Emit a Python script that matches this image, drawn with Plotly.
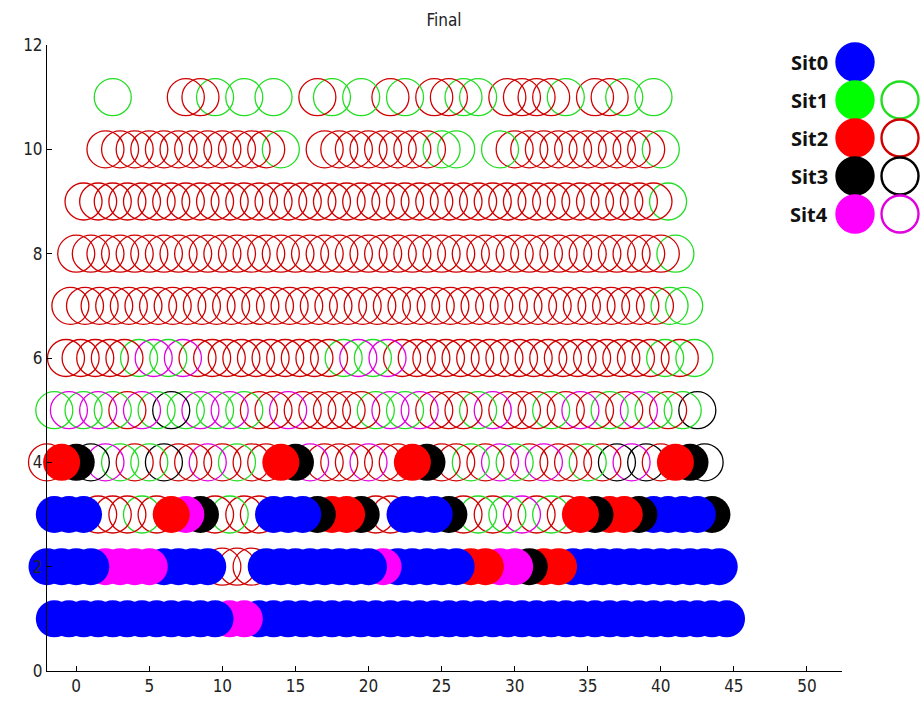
import plotly.graph_objects as go

# ---------------- data ----------------
# one row of agents per lane (y value); each code is one agent at x = x0 + index
# upper case = filled marker, lower case = open marker, '.' = empty slot
# B/b Sit0 (blue), G/g Sit1 (green), R/r Sit2 (red), K/k Sit3 (black), M/m Sit4 (magenta)
row_y = [1, 2, 3, 4, 5, 6, 7, 8, 9, 10, 11]
row_x0 = [-1.5, -2.0, -1.5, -2.0, -1.5, -0.7, -0.4, 0.0, 0.5, 2.0, 2.5]
row_codes = [
    "BBBBBBBBBBBBMMBBBBBBBBBBBBBBBBBBBBBBBBBBBBBBBBB",
    "BBBBMMMMBBBBrrrBBBBBBBBMBBBBBRRMMKRRBBBBBBBBBBB",
    "BBBrrrgrRMKrgrrBBBKRRKrrBBBKrgrgmrgrRKRRKBBBBK",
    "rRKkmgrgkrrmrgrrRKmrrrmrrRKrrgrmgrmrrgrkmkrRKk",
    "gmgmgrmgkgmgmgrrmrrrrrgmgmrrrgmrrrgrmrgrmgrgk",
    "rrrrrgmgmrrrrrrrrrrgmgmrrrrrrrrrrrrrrrrrrgrg",
    "rrrrrrrrrrrrrrrrrrrrrrrrrrrrrrrrrrrrrrrrrgg",
    "rrrrrrrrrrrrrrrrrrrrrrrrrrrrrrrrrrrrrrrrrg",
    "rrrrrrrrrrrrrrrrrrrrrrrrrrrrrrrrrrrrrrrrg",
    "rrrrrrrrrrrrg..rrrrrrrrgg..grrrrrrrrrrg",
    "g....rrg.g.g..rg.g.rg.rrgg.rrrrg.rrg.g",
]
sit_names = ["Sit0", "Sit1", "Sit2", "Sit3", "Sit4"]
sit_codes = ["B", "G", "R", "K", "M"]
sit_colors = ["#0000FF", "#00FF00", "#FF0000", "#000000", "#FF00FF"]
sit_open_colors = ["#0000FF", "#22DD22", "#D00000", "#000000", "#E000E0"]
sit_has_open = [False, True, True, True, True]

x_ticks = [0, 5, 10, 15, 20, 25, 30, 35, 40, 45, 50]
y_ticks = [0, 2, 4, 6, 8, 10, 12]

# ---------------- build points ----------------
fill_of = {c: col for c, col in zip(sit_codes, sit_colors)}
open_of = {c: col for c, col in zip(sit_codes, sit_open_colors)}
pts = []
for y, x0, codes in zip(row_y, row_x0, row_codes):
    pts += [(x0 + i, y, c) for i, c in enumerate(codes) if c != "."]
# open markers first, filled on top; right-most first so left-most ends up on top
pts.sort(key=lambda p: (p[2].isupper(), -p[0]))

xs, ys, cols, syms, lws = [], [], [], [], []
for x, y, c in pts:
    xs.append(x)
    ys.append(y)
    if c.isupper():
        cols.append(fill_of[c])
        syms.append("circle")
        lws.append(0)
    else:
        cols.append(open_of[c.upper()])
        syms.append("circle-open")
        lws.append(1.3)

fig = go.Figure()
fig.add_trace(go.Scatter(
    x=xs, y=ys, mode="markers", cliponaxis=False, showlegend=False,
    hoverinfo="skip",
    marker=dict(size=37, color=cols, symbol=syms,
                line=dict(width=lws, color=cols)),
))

# custom legend (filled + open marker per situation)
leg_x, leg_y, leg_c, leg_s = [], [], [], []
for i, (col, ocol, has_open) in enumerate(zip(sit_colors, sit_open_colors, sit_has_open)):
    leg_x.append(0); leg_y.append(i); leg_c.append(col); leg_s.append("circle")
    if has_open:
        leg_x.append(1); leg_y.append(i); leg_c.append(ocol); leg_s.append("circle-open")
fig.add_trace(go.Scatter(
    x=leg_x, y=leg_y, xaxis="x2", yaxis="y2", mode="markers",
    cliponaxis=False, showlegend=False, hoverinfo="skip",
    marker=dict(size=37, color=leg_c, symbol=leg_s, line=dict(width=2.4, color=leg_c)),
))
for i, name in enumerate(sit_names):
    fig.add_annotation(x=-0.56, y=i, xref="x2", yref="y2", text="<b>%s</b>" % name,
                       showarrow=False, xanchor="right", yanchor="middle",
                       font=dict(family="Open Sans", size=20, color="#111111"))

W, H = 920, 704
plot_l, plot_r, plot_t, plot_b = 47, 842, 45, 671
paper_r, paper_t = 918, 30
L, T, B, R = plot_l, paper_t, H - plot_b, W - paper_r
pw, ph = W - L - R, H - T - B


def px_x(p):
    return (p - L) / pw


def px_y(p):
    return (H - B - p) / ph


axis_font = dict(family="Liberation Sans Narrow, DejaVu Sans Condensed, Arial, sans-serif",
                 size=17, color="#222222")

fig.update_layout(
    width=W, height=H,
    margin=dict(l=L, r=R, t=T, b=B, pad=0),
    paper_bgcolor="white", plot_bgcolor="white",
    title=dict(text="Final", x=px_x(444), xref="paper", xanchor="center",
               y=1 - 20 / H, yref="container", yanchor="middle",
               font=axis_font),
    xaxis=dict(domain=[0, px_x(plot_r)], range=[-2, 52.4], tickvals=x_ticks,
               ticks="inside", ticklen=5, tickcolor="black", showline=True,
               linecolor="black", linewidth=1, showgrid=False, zeroline=False,
               tickfont=axis_font, anchor="y"),
    yaxis=dict(domain=[0, px_y(plot_t)], range=[0, 12], tickvals=y_ticks,
               ticks="inside", ticklen=5, tickcolor="black", showline=True,
               linecolor="black", linewidth=1, showgrid=False, zeroline=False,
               tickfont=axis_font, anchor="x"),
    xaxis2=dict(domain=[px_x(810), px_x(915)], range=[-1, 1.3333], visible=False,
                anchor="y2", fixedrange=True),
    yaxis2=dict(domain=[px_y(233), px_y(43)], range=[4.5, -0.5],
                visible=False, anchor="x2", fixedrange=True),
)

fig.write_html("out.html", config={"displayModeBar": False},
               post_script="document.body.style.margin='0px';")
